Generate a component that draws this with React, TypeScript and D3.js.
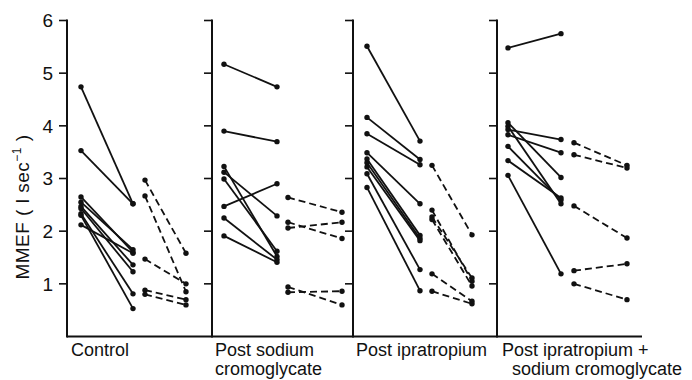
import React, { useEffect } from "react";
import * as d3 from "d3";

// panel labels (multi-line split on \n)
const categories = [
  "Control",
  "Post sodium\ncromoglycate",
  "Post ipratropium",
  "Post ipratropium +\nsodium cromoglycate",
];
const yTicks = [1, 2, 3, 4, 5, 6];

// [before, after] MMEF pairs
const controlSolid = [
  [4.74, 2.52], [3.53, 2.52], [2.65, 1.6], [2.55, 1.65], [2.47, 1.36],
  [2.43, 1.23], [2.33, 0.81], [2.3, 0.53], [2.12, 1.58],
];
const controlDashed = [[2.97, 1.58], [2.67, 0.85], [1.47, 1.0], [0.88, 0.7], [0.8, 0.6]];

const cromoSolid = [
  [5.17, 4.74], [3.9, 3.7], [3.23, 1.52], [3.12, 2.29], [2.99, 1.62],
  [2.47, 2.9], [2.25, 1.46], [1.91, 1.41],
];
const cromoDashed = [[2.64, 2.36], [2.06, 2.17], [2.17, 1.86], [0.84, 0.86], [0.94, 0.6]];

const iprSolid = [
  [5.51, 3.71], [4.16, 3.36], [3.85, 3.26], [3.49, 2.52], [3.37, 1.92],
  [3.3, 1.86], [3.22, 1.82], [3.09, 1.27], [2.83, 0.87],
];
const iprDashed = [[3.25, 1.93], [2.4, 1.05], [2.27, 1.11], [2.22, 0.96], [1.19, 0.67], [0.86, 0.62]];

const bothSolid = [
  [5.48, 5.75], [4.06, 3.02], [3.99, 2.52], [3.93, 3.74], [3.83, 3.49],
  [3.61, 2.59], [3.34, 2.63], [3.06, 1.19],
];
const bothDashed = [[3.68, 3.25], [3.45, 3.2], [2.48, 1.87], [1.25, 1.38], [1.0, 0.7]];

const panels = [
  { solid: controlSolid, dashed: controlDashed },
  { solid: cromoSolid, dashed: cromoDashed },
  { solid: iprSolid, dashed: iprDashed },
  { solid: bothSolid, dashed: bothDashed },
];

// layout
const W = 692;
const H = 380;
const panelLeft = [67, 212, 353, 497];
const axisRight = 642;
const slotOffsets = [
  [14, 66, 78, 119],
  [12, 65, 76, 130],
  [14, 67, 79, 119],
  [11, 64, 77, 130],
];
// label x offsets per panel: [first line, second line]
const labelOffsets = [
  [4, 4],
  [3, 3],
  [3, 3],
  [5, 15],
];
const ink = "#111";
const font = "'Liberation Sans', Arial, sans-serif";

const App = () => {
  useEffect(() => {
    document.body.style.margin = "0";
  }, []);

  const y = d3.scaleLinear().domain([0, 6]).range([336.5, 20.5]);
  const line = d3.line<[number, number]>();

  return (
    <svg width={W} height={H} style={{ display: "block", background: "#fff" }}>
      {/* bottom axis */}
      <line x1={panelLeft[0]} x2={axisRight} y1={y(0)} y2={y(0)} stroke={ink} strokeWidth={2} />

      {panelLeft.map((px, p) => (
        <g key={"ax" + p}>
          <line x1={px} x2={px} y1={y(6) - 1} y2={y(0) + 1} stroke={ink} strokeWidth={2} />
          {yTicks.map((t) => (
            <line key={t} x1={px - 8} x2={px} y1={y(t)} y2={y(t)} stroke={ink} strokeWidth={1.6} />
          ))}
        </g>
      ))}

      {/* y tick labels */}
      {yTicks.map((t) => (
        <text
          key={"yl" + t}
          x={53}
          y={y(t)}
          dy="0.36em"
          textAnchor="end"
          fontFamily={font}
          fontSize={19}
          fill={ink}
        >
          {t}
        </text>
      ))}

      {/* y axis title */}
      <text
        transform={`translate(29,${207}) rotate(-90)`}
        textAnchor="middle"
        fontFamily={font}
        fontSize={19}
        fill={ink}
        letterSpacing={0.5}
      >
        {"MMEF  (  l  sec"}
        <tspan fontSize={12} dy={-8}>{"−1"}</tspan>
        <tspan dy={8}>{" )"}</tspan>
      </text>

      {panels.map((pan, p) => {
        const x = d3
          .scaleOrdinal<number, number>()
          .domain([0, 1, 2, 3])
          .range(slotOffsets[p].map((o) => panelLeft[p] + o));
        const groups = [
          { pairs: pan.solid, a: 0, b: 1, dash: null },
          { pairs: pan.dashed, a: 2, b: 3, dash: "7,4" },
        ];
        return (
          <g key={"p" + p}>
            {groups.map((g, gi) =>
              g.pairs.map((d, i) => {
                const p0: [number, number] = [x(g.a), y(d[0])];
                const p1: [number, number] = [x(g.b), y(d[1])];
                return (
                  <g key={gi + "-" + i}>
                    <path
                      d={line([p0, p1]) || ""}
                      stroke={ink}
                      strokeWidth={1.8}
                      fill="none"
                      strokeDasharray={g.dash || undefined}
                    />
                    <circle cx={p0[0]} cy={p0[1]} r={2.7} fill={ink} />
                    <circle cx={p1[0]} cy={p1[1]} r={2.7} fill={ink} />
                  </g>
                );
              })
            )}
            {categories[p].split("\n").map((s, li) => (
              <text
                key={"c" + li}
                x={panelLeft[p] + labelOffsets[p][li]}
                y={356 + li * 19}
                fontFamily={font}
                fontSize={18}
                fill={ink}
              >
                {s}
              </text>
            ))}
          </g>
        );
      })}
    </svg>
  );
};

export default App;
